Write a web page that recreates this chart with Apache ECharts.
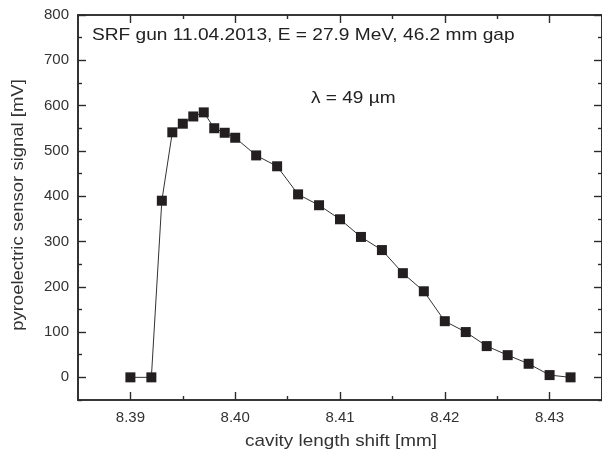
<!DOCTYPE html>
<html>
<head>
<meta charset="utf-8">
<script src="https://cdn.jsdelivr.net/npm/echarts@6/dist/echarts.min.js"></script>
<style>html,body{margin:0;padding:0;background:#fff}#c{width:602px;height:458px}</style>
</head>
<body>
<div id="c"></div>
<script>
const shiftMM = [8.390, 8.392, 8.393, 8.394, 8.395, 8.396, 8.397, 8.398, 8.399, 8.400, 8.402, 8.404, 8.406, 8.408, 8.410, 8.412, 8.414, 8.416, 8.418, 8.420, 8.422, 8.424, 8.426, 8.428, 8.430, 8.432];
const signalMV = [0, 0, 390, 541, 560, 576, 585, 550, 540, 529, 490, 466, 404, 380, 349, 310, 281, 230, 190, 124, 100, 69, 49, 30, 5, 0];
const xMajor = [8.39, 8.40, 8.41, 8.42, 8.43];
const xMinor = [8.395, 8.405, 8.415, 8.425, 8.435];
const yMajor = [0, 100, 200, 300, 400, 500, 600, 700, 800];
const yMinor = [-50, 50, 150, 250, 350, 450, 550, 650, 750];
const title = 'SRF gun 11.04.2013, E = 27.9 MeV, 46.2 mm gap';
const note = '\u03bb = 49 \u00b5m';
const xName = 'cavity length shift [mm]';
const yName = 'pyroelectric sensor signal [mV]';

const FONT = 'Liberation Sans, Arial, sans-serif';
const AX = '#2b2b2b';
const X_MIN = 8.385, X_MAX = 8.435, Y_MIN = -50, Y_MAX = 800;

function xa(pos, ticks, len, labels) {
  return {
    type: 'value', position: pos, min: X_MIN, max: X_MAX,
    axisLine: {show: true, onZero: false, lineStyle: {color: AX, width: 1.6}},
    axisTick: {show: true, inside: true, length: len, customValues: ticks, lineStyle: {color: AX, width: 1.4}},
    axisLabel: labels ? {show: true, customValues: ticks, margin: 10, color: '#333', fontSize: 15, fontFamily: FONT,
      formatter: v => v.toFixed(2)} : {show: false},
    splitLine: {show: false}
  };
}
function ya(pos, ticks, len, labels) {
  return {
    type: 'value', position: pos, min: Y_MIN, max: Y_MAX,
    axisLine: {show: true, onZero: false, lineStyle: {color: AX, width: 1.6}},
    axisTick: {show: true, inside: true, length: len, customValues: ticks, lineStyle: {color: AX, width: 1.4}},
    axisLabel: labels ? {show: true, customValues: ticks, margin: 9, color: '#333', fontSize: 15, fontFamily: FONT} : {show: false},
    splitLine: {show: false}
  };
}

const xAxes = [xa('bottom', xMajor, 8, true), xa('bottom', xMinor, 4, false), xa('top', xMajor, 8, false), xa('top', xMinor, 4, false)];
const yAxes = [ya('left', yMajor, 8, true), ya('left', yMinor, 4, false), ya('right', yMajor, 8, false), ya('right', yMinor, 4, false)];

const chart = echarts.init(document.getElementById('c'), null, {renderer: 'canvas'});
chart.setOption({
  animation: false,
  backgroundColor: '#fff',
  grid: {left: 78, top: 15, right: -2, bottom: 58, containLabel: false},
  xAxis: xAxes,
  yAxis: yAxes,
  series: [{
    type: 'line', xAxisIndex: 0, yAxisIndex: 0,
    data: shiftMM.map((x, i) => [x, signalMV[i]]),
    symbol: 'rect', symbolSize: 10,
    itemStyle: {color: '#231f20'},
    lineStyle: {color: '#333', width: 1},
    z: 5
  }],
  graphic: [
    {type: 'text', x: 92, y: 35, scaleX: 1.125,
      style: {text: title, font: '17px ' + FONT, fill: '#222', align: 'left', verticalAlign: 'middle'}},
    {type: 'text', x: 311, y: 98, scaleX: 1.12,
      style: {text: note, font: '17px ' + FONT, fill: '#222', align: 'left', verticalAlign: 'middle'}},
    {type: 'text', x: 341, y: 441, scaleX: 1.11,
      style: {text: xName, font: '17px ' + FONT, fill: '#333', align: 'center', verticalAlign: 'middle'}},
    {type: 'text', x: 18, y: 205, rotation: Math.PI / 2, scaleX: 1.087,
      style: {text: yName, font: '17px ' + FONT, fill: '#333', align: 'center', verticalAlign: 'middle'}}
  ]
});
</script>
</body>
</html>
